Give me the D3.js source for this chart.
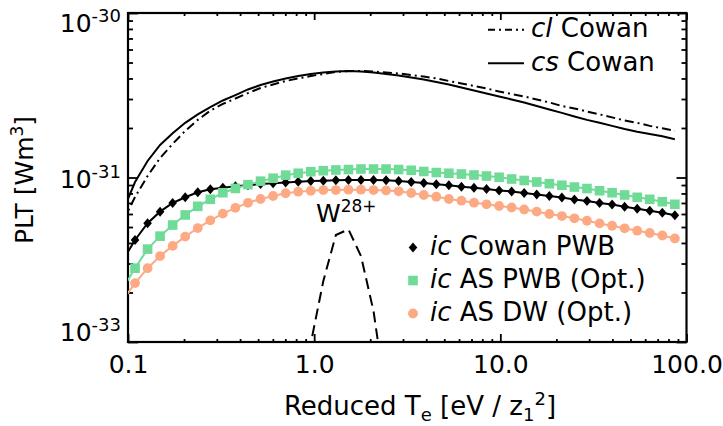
<!DOCTYPE html>
<html>
<head>
<meta charset="utf-8">
<script src="https://cdn.jsdelivr.net/npm/d3@7"></script>
<style>
  body { margin: 0; background: #fff; }
  svg { display: block; font-family: "DejaVu Sans", sans-serif; }
</style>
</head>
<body>
<svg id="chart" width="723" height="426"></svg>
<script>
// reduced electron temperature grid [eV / z1^2]
const te = [0.0934, 0.1091, 0.1274, 0.1487, 0.1737, 0.2029, 0.2370, 0.2768, 0.3233, 0.3776,
  0.4410, 0.5152, 0.6017, 0.7028, 0.8208, 0.9588, 1.120, 1.308, 1.528, 1.784,
  2.084, 2.434, 2.843, 3.321, 3.879, 4.530, 5.291, 6.180, 7.218, 8.431,
  9.849, 11.50, 13.43, 15.69, 18.33, 21.41, 25.00, 29.20, 34.11, 39.84,
  46.53, 54.35, 63.48, 74.15, 86.60];

const clCowan = [5.36e-32, 7.61e-32, 1.021e-31, 1.314e-31, 1.60e-31, 1.92e-31, 2.24e-31, 2.55e-31, 2.80e-31, 3.02e-31,
  3.26e-31, 3.50e-31, 3.68e-31, 3.86e-31, 4.00e-31, 4.14e-31, 4.26e-31, 4.38e-31, 4.44e-31, 4.44e-31,
  4.41e-31, 4.35e-31, 4.29e-31, 4.20e-31, 4.11e-31, 4.00e-31, 3.86e-31, 3.73e-31, 3.60e-31, 3.48e-31,
  3.33e-31, 3.22e-31, 3.11e-31, 2.98e-31, 2.86e-31, 2.72e-31, 2.63e-31, 2.52e-31, 2.42e-31, 2.32e-31,
  2.22e-31, 2.15e-31, 2.06e-31, 1.99e-31, 1.92e-31];

const csCowan = [6.17e-32, 9.39e-32, 1.26e-31, 1.576e-31, 1.86e-31, 2.15e-31, 2.42e-31, 2.68e-31, 2.94e-31, 3.17e-31,
  3.43e-31, 3.65e-31, 3.83e-31, 4.00e-31, 4.14e-31, 4.26e-31, 4.35e-31, 4.41e-31, 4.44e-31, 4.41e-31,
  4.35e-31, 4.26e-31, 4.17e-31, 4.05e-31, 3.94e-31, 3.81e-31, 3.68e-31, 3.52e-31, 3.38e-31, 3.24e-31,
  3.11e-31, 2.98e-31, 2.86e-31, 2.72e-31, 2.59e-31, 2.47e-31, 2.35e-31, 2.24e-31, 2.15e-31, 2.06e-31,
  1.97e-31, 1.90e-31, 1.84e-31, 1.78e-31, 1.71e-31];

const icCowanPWB = [3.11e-32, 4.17e-32, 5.27e-32, 6.20e-32, 7.00e-32, 7.58e-32, 8.13e-32, 8.48e-32, 8.67e-32, 8.84e-32,
  8.97e-32, 9.13e-32, 9.22e-32, 9.32e-32, 9.43e-32, 9.52e-32, 9.56e-32, 9.62e-32, 9.66e-32, 9.66e-32,
  9.66e-32, 9.62e-32, 9.52e-32, 9.40e-32, 9.26e-32, 9.10e-32, 8.97e-32, 8.79e-32, 8.67e-32, 8.51e-32,
  8.34e-32, 8.22e-32, 8.05e-32, 7.88e-32, 7.72e-32, 7.56e-32, 7.35e-32, 7.20e-32, 7.00e-32, 6.85e-32,
  6.65e-32, 6.46e-32, 6.28e-32, 6.11e-32, 5.89e-32];

const icAsPWB = [2.10e-32, 2.81e-32, 3.67e-32, 4.40e-32, 5.14e-32, 5.92e-32, 6.68e-32, 7.37e-32, 8.08e-32, 8.58e-32,
  9.05e-32, 9.50e-32, 9.90e-32, 1.033e-31, 1.061e-31, 1.085e-31, 1.100e-31, 1.111e-31, 1.118e-31, 1.126e-31,
  1.126e-31, 1.126e-31, 1.118e-31, 1.106e-31, 1.088e-31, 1.072e-31, 1.061e-31, 1.050e-31, 1.036e-31, 1.021e-31,
  1.003e-31, 9.79e-32, 9.59e-32, 9.39e-32, 9.17e-32, 8.97e-32, 8.75e-32, 8.57e-32, 8.31e-32, 8.08e-32,
  7.83e-32, 7.58e-32, 7.37e-32, 7.13e-32, 6.87e-32];

const icAsDW = [1.78e-32, 2.28e-32, 2.81e-32, 3.33e-32, 3.84e-32, 4.37e-32, 4.93e-32, 5.49e-32, 6.03e-32, 6.54e-32,
  7.02e-32, 7.40e-32, 7.72e-32, 8.02e-32, 8.20e-32, 8.31e-32, 8.39e-32, 8.39e-32, 8.43e-32, 8.43e-32,
  8.39e-32, 8.34e-32, 8.24e-32, 8.05e-32, 7.83e-32, 7.64e-32, 7.40e-32, 7.23e-32, 7.03e-32, 6.87e-32,
  6.71e-32, 6.57e-32, 6.39e-32, 6.20e-32, 6.00e-32, 5.83e-32, 5.65e-32, 5.46e-32, 5.26e-32, 5.09e-32,
  4.91e-32, 4.75e-32, 4.60e-32, 4.44e-32, 4.26e-32];

// W28+ curve, drawn dashed
const w28Te = [0.8208, 0.9588, 1.120, 1.308, 1.528, 1.784, 2.084, 2.434];
const w28 = [3.36e-33, 9.79e-33, 2.35e-32, 4.47e-32, 4.84e-32, 3.33e-32, 1.54e-32, 4.57e-33];

const xTicks = [0.1, 1, 10, 100];
const xTickLabels = ['0.1', '1.0', '10.0', '100.0'];
const yTicks = [1e-32, 1e-31, 1e-30];
const yTickExp = ['-33', '-31', '-30'];

const green = '#6fdb97';
const orange = '#fdaa84';
const FONT = '"DejaVu Sans", sans-serif';

const svg = d3.select('#chart');
const m = { top: 13, right: 36.5, bottom: 84, left: 128 };
const W = 723, H = 426;
const x = d3.scaleLog().domain([0.1, 100]).range([m.left, W - m.right]);
const y = d3.scaleLog().domain([1e-32, 1e-30]).range([H - m.bottom, m.top]);

svg.append('clipPath').attr('id', 'plot')
  .append('rect')
  .attr('x', m.left).attr('y', m.top)
  .attr('width', W - m.left - m.right).attr('height', H - m.top - m.bottom);

// minor tick values between the decades
const minorX = [];
[0.1, 1, 10].forEach(d => { for (let k = 2; k <= 9; k++) minorX.push(d * k); });
const minorY = [];
[1e-32, 1e-31].forEach(d => { for (let k = 2; k <= 9; k++) minorY.push(d * k); });

const axes = svg.append('g');
function addAxis(axis, tx, ty) {
  return axes.append('g').attr('transform', `translate(${tx},${ty})`).call(axis)
    .style('font-size', '25px').style('font-family', FONT);
}

// bottom & top
addAxis(d3.axisBottom(x).tickValues(xTicks).tickSizeInner(-8).tickSizeOuter(0).tickPadding(13)
  .tickFormat((d, i) => xTickLabels[i]), 0, H - m.bottom);
addAxis(d3.axisBottom(x).tickValues(minorX).tickSizeInner(-3).tickSizeOuter(0).tickFormat(''), 0, H - m.bottom);
addAxis(d3.axisTop(x).tickValues(xTicks).tickSizeInner(-7).tickSizeOuter(0).tickFormat(''), 0, m.top);
addAxis(d3.axisTop(x).tickValues(minorX).tickSizeInner(-3).tickSizeOuter(0).tickFormat(''), 0, m.top);

// left & right
const yLab = addAxis(d3.axisLeft(y).tickValues(yTicks).tickSizeInner(-10).tickSizeOuter(0).tickPadding(7)
  .tickFormat(() => '10'), m.left, 0);
addAxis(d3.axisLeft(y).tickValues(minorY).tickSizeInner(-5).tickSizeOuter(0).tickFormat(''), m.left, 0);
addAxis(d3.axisRight(y).tickValues(yTicks).tickSizeInner(-10).tickSizeOuter(0).tickFormat(''), W - m.right, 0);
addAxis(d3.axisRight(y).tickValues(minorY).tickSizeInner(-5).tickSizeOuter(0).tickFormat(''), W - m.right, 0);

axes.selectAll('.domain').remove();
axes.selectAll('.tick line').attr('stroke', '#000').attr('stroke-width', 1.8);
axes.selectAll('.tick text').attr('fill', '#000');

// y labels: 10 with superscript exponent, kept inside the frame height
yLab.selectAll('.tick text').each(function (d, i) {
  const yp = y(d);
  const base = Math.min(Math.max(yp + 9.5, m.top + 18.5), H - m.bottom - 2);
  const t = d3.select(this).attr('dy', null).attr('y', base - yp);
  t.append('tspan').attr('dy', -10).style('font-size', '18px').text(yTickExp[i]);
});

// frame
svg.append('rect')
  .attr('x', m.left).attr('y', m.top)
  .attr('width', W - m.left - m.right).attr('height', H - m.top - m.bottom)
  .attr('fill', 'none').attr('stroke', '#000').attr('stroke-width', 2.2);

const plot = svg.append('g').attr('clip-path', 'url(#plot)');
const line = d3.line().x(d => x(d[0])).y(d => y(d[1]));
const pairs = vals => te.map((t, i) => [t, vals[i]]);

plot.append('path').datum(pairs(clCowan)).attr('d', line)
  .attr('fill', 'none').attr('stroke', '#000').attr('stroke-width', 2)
  .attr('stroke-dasharray', '9,4,2,4');
plot.append('path').datum(pairs(csCowan)).attr('d', line)
  .attr('fill', 'none').attr('stroke', '#000').attr('stroke-width', 2);
plot.append('path').datum(w28Te.map((t, i) => [t, w28[i]])).attr('d', line)
  .attr('fill', 'none').attr('stroke', '#000').attr('stroke-width', 2)
  .attr('stroke-dasharray', '11,6');

const diamond = 'M0,-5L4.3,0L0,5L-4.3,0Z';

function markerSeries(vals, color, shape) {
  const data = pairs(vals);
  plot.append('path').datum(data).attr('d', line)
    .attr('fill', 'none').attr('stroke', color).attr('stroke-width', 2);
  const g = plot.append('g').attr('fill', color);
  const pts = g.selectAll('.pt').data(data).enter();
  if (shape === 'diamond') {
    pts.append('path').attr('d', diamond)
      .attr('transform', d => `translate(${x(d[0])},${y(d[1])})`);
  } else if (shape === 'square') {
    pts.append('rect').attr('x', d => x(d[0]) - 4.8).attr('y', d => y(d[1]) - 4.8)
      .attr('width', 9.6).attr('height', 9.6);
  } else {
    pts.append('circle').attr('cx', d => x(d[0])).attr('cy', d => y(d[1])).attr('r', 4.9);
  }
}
markerSeries(icCowanPWB, '#000', 'diamond');
markerSeries(icAsPWB, green, 'square');
markerSeries(icAsDW, orange, 'circle');

// W28+ label
const wl = svg.append('text').attr('x', 316).attr('y', 222).style('font-size', '25px').text('W');
wl.append('tspan').attr('dy', -10).style('font-size', '17px').text('28+');

// top legend
const topLeg = [
  { it: 'cl', rest: ' Cowan', dash: '7,4,2,4' },
  { it: 'cs', rest: ' Cowan', dash: null }
];
topLeg.forEach((d, i) => {
  const by = 37.3 + i * 33.4;
  svg.append('line').attr('x1', 488).attr('x2', 524).attr('y1', by - 7.5).attr('y2', by - 7.5)
    .attr('stroke', '#000').attr('stroke-width', 2).attr('stroke-dasharray', d.dash);
  const t = svg.append('text').attr('x', 531).attr('y', by).style('font-size', '26px');
  t.append('tspan').style('font-style', 'italic').text(d.it);
  t.append('tspan').text(d.rest);
});

// bottom legend
const botLeg = [
  { it: 'ic', rest: ' Cowan PWB', color: '#000', shape: 'diamond' },
  { it: 'ic', rest: ' AS PWB (Opt.)', color: green, shape: 'square' },
  { it: 'ic', rest: ' AS DW (Opt.)', color: orange, shape: 'circle' }
];
botLeg.forEach((d, i) => {
  const by = 255 + i * 33;
  const cx = 413, cy = by - 7.5;
  if (d.shape === 'diamond') {
    svg.append('path').attr('d', diamond).attr('fill', d.color).attr('transform', `translate(${cx},${cy})`);
  } else if (d.shape === 'square') {
    svg.append('rect').attr('x', cx - 4.8).attr('y', cy - 4.8).attr('width', 9.6).attr('height', 9.6).attr('fill', d.color);
  } else {
    svg.append('circle').attr('cx', cx).attr('cy', cy).attr('r', 4.9).attr('fill', d.color);
  }
  const t = svg.append('text').attr('x', 430).attr('y', by).style('font-size', '26px');
  t.append('tspan').style('font-style', 'italic').text(d.it);
  t.append('tspan').text(d.rest);
});

// axis titles
const xt = svg.append('text').attr('x', 420).attr('y', 415).attr('text-anchor', 'middle').style('font-size', '26px');
xt.append('tspan').text('Reduced T');
xt.append('tspan').attr('dy', 6).style('font-size', '18px').text('e');
xt.append('tspan').attr('dy', -6).text(' [eV / z');
xt.append('tspan').attr('dy', 6).style('font-size', '18px').text('1');
xt.append('tspan').attr('dy', -16).style('font-size', '18px').text('2');
xt.append('tspan').attr('dy', 10).text(']');

const yt = svg.append('text').attr('transform', 'translate(33,180) rotate(-90)')
  .attr('text-anchor', 'middle').style('font-size', '25px');
yt.append('tspan').text('PLT [Wm');
yt.append('tspan').attr('dy', -10).style('font-size', '17px').text('3');
yt.append('tspan').attr('dy', 10).text(']');
</script>
</body>
</html>
